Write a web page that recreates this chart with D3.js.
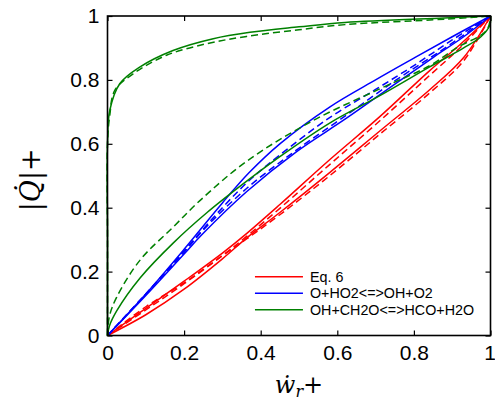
<!DOCTYPE html>
<html>
<head>
<meta charset="utf-8">
<script src="https://cdn.jsdelivr.net/npm/d3@7"></script>
<style>
body { margin: 0; background: #fff; }
text { font-family: "Liberation Sans", Arial, sans-serif; }
</style>
</head>
<body>
<script>
// tick values and labels
let xTicks = [0, 0.2, 0.4, 0.6, 0.8, 1];
let yTicks = [0, 0.2, 0.4, 0.6, 0.8, 1];
let legendLabels = ["Eq. 6", "O+HO2<=>OH+O2", "OH+CH2O<=>HCO+H2O"];

// Eq. 6 (red) loop branches
let redSolidUp = [[0,0],[0.1,0.085],[0.2,0.17],[0.3,0.258],[0.363,0.319],[0.45,0.41],[0.58,0.55],[0.711,0.685],[0.842,0.83],[0.92,0.91],[1,1]];
let redDashUp = [[0,0],[0.1,0.08],[0.2,0.162],[0.3,0.25],[0.363,0.31],[0.45,0.398],[0.58,0.535],[0.711,0.672],[0.842,0.815],[0.92,0.9],[1,1]];
let redSolidLow = [[0,0],[0.1,0.065],[0.2,0.145],[0.3,0.24],[0.363,0.305],[0.45,0.385],[0.58,0.51],[0.711,0.64],[0.842,0.77],[0.93,0.87],[1,1]];
let redDashLow = [[0,0],[0.1,0.09],[0.2,0.165],[0.3,0.25],[0.363,0.302],[0.45,0.378],[0.58,0.5],[0.711,0.63],[0.842,0.76],[0.93,0.86],[1,1]];

// O+HO2<=>OH+O2 (blue) loop branches
let blueSolidUp = [[0,0],[0.1,0.13],[0.2,0.27],[0.3,0.415],[0.37,0.51],[0.45,0.6],[0.58,0.715],[0.7,0.8],[0.8,0.868],[0.9,0.935],[1,1]];
let blueDashUp = [[0,0],[0.1,0.13],[0.2,0.265],[0.3,0.4],[0.37,0.485],[0.45,0.565],[0.58,0.682],[0.7,0.77],[0.8,0.845],[0.9,0.925],[1,1]];
let blueSolidLow = [[0,0],[0.1,0.125],[0.2,0.255],[0.25,0.32],[0.363,0.45],[0.493,0.575],[0.624,0.68],[0.754,0.79],[0.85,0.87],[0.93,0.935],[1,1]];
let blueDashLow = [[0,0],[0.1,0.13],[0.2,0.26],[0.25,0.33],[0.363,0.46],[0.493,0.58],[0.624,0.69],[0.754,0.8],[0.85,0.875],[0.93,0.94],[1,1]];

// OH+CH2O<=>HCO+H2O (green) loop branches
let greenSolidUp = [[0,0],[0,0.3],[0,0.6],[0.006,0.705],[0.032,0.788],[0.084,0.84],[0.171,0.892],[0.276,0.929],[0.372,0.949],[0.5,0.966],[0.62,0.98],[0.88,0.994],[1,1]];
let greenDashUp = [[0,0],[0,0.3],[0,0.6],[0.006,0.69],[0.019,0.767],[0.067,0.819],[0.154,0.877],[0.258,0.913],[0.363,0.936],[0.5,0.957],[0.62,0.973],[0.88,0.99],[1,1]];
let greenSolidLow = [[0,0],[0.005,0.03],[0.024,0.077],[0.085,0.18],[0.172,0.29],[0.26,0.385],[0.36,0.48],[0.45,0.56],[0.58,0.665],[0.71,0.75],[0.84,0.84],[0.93,0.9],[0.975,0.935],[0.998,0.97],[1,1]];
let greenDashLow = [[0,0],[0.005,0.06],[0.024,0.12],[0.085,0.236],[0.172,0.34],[0.242,0.423],[0.363,0.545],[0.537,0.673],[0.711,0.772],[0.842,0.845],[0.911,0.9],[0.99,0.955],[1,1]];

//set up size and margin
let W = 495, H = 402;
let margin = { top: 16, right: 4.5, bottom: 66.5, left: 107.5 };
let width = W - margin.left - margin.right;
let height = H - margin.top - margin.bottom;

let colors = ["#ff0000", "#0000ff", "#008000"];

let series = [
  { pts: redSolidUp, c: 0, dash: false },
  { pts: redDashUp, c: 0, dash: true },
  { pts: redSolidLow, c: 0, dash: false },
  { pts: redDashLow, c: 0, dash: true },
  { pts: blueSolidUp, c: 1, dash: false },
  { pts: blueDashUp, c: 1, dash: true },
  { pts: blueSolidLow, c: 1, dash: false },
  { pts: blueDashLow, c: 1, dash: true },
  { pts: greenSolidUp, c: 2, dash: false },
  { pts: greenDashUp, c: 2, dash: true },
  { pts: greenSolidLow, c: 2, dash: false },
  { pts: greenDashLow, c: 2, dash: true }
];

let svg = d3.select("body").append("svg")
  .attr("width", W)
  .attr("height", H);

let g = svg.append("g")
  .attr("transform", "translate(" + margin.left + "," + margin.top + ")");

let xScale = d3.scaleLinear().domain([0, 1]).range([0, width]);
let yScale = d3.scaleLinear().domain([0, 1]).range([height, 0]);

let line = d3.line()
  .x(d => xScale(d[0]))
  .y(d => yScale(d[1]))
  .curve(d3.curveCatmullRom.alpha(0.5));

g.selectAll("path.series")
  .data(series)
  .enter()
  .append("path")
  .attr("class", "series")
  .attr("d", d => line(d.pts))
  .attr("fill", "none")
  .attr("stroke", d => colors[d.c])
  .attr("stroke-width", 1.5)
  .attr("stroke-dasharray", d => d.dash ? "7,4" : null);

//axes with inward ticks
let fmt = d => String(d);
let tickLen = 5;

let xAxis = d3.axisBottom(xScale).tickValues(xTicks).tickFormat(fmt).tickSize(-tickLen).tickSizeOuter(0).tickPadding(10);
let yAxis = d3.axisLeft(yScale).tickValues(yTicks).tickFormat(fmt).tickSize(-tickLen).tickSizeOuter(0).tickPadding(8);
let xTop = d3.axisTop(xScale).tickValues(xTicks).tickFormat("").tickSize(-tickLen).tickSizeOuter(0);
let yRight = d3.axisRight(yScale).tickValues(yTicks).tickFormat("").tickSize(-tickLen).tickSizeOuter(0);

let xAxisG = g.append("g").attr("transform", "translate(0," + height + ")").call(xAxis);
g.append("g").call(yAxis);
g.append("g").call(xTop);
g.append("g").attr("transform", "translate(" + width + ",0)").call(yRight);

g.selectAll(".domain").remove();
g.selectAll(".tick line").attr("stroke", "#000").attr("stroke-width", 1.2);
g.selectAll(".tick text")
  .attr("fill", "#000")
  .style("font-size", "21px")
  .style("font-family", "'Liberation Sans', Arial, sans-serif");

// keep the last x label inside the page
xAxisG.selectAll(".tick text").filter(d => d === 1).attr("dx", -1);

g.append("rect")
  .attr("x", 0)
  .attr("y", 0)
  .attr("width", width)
  .attr("height", height)
  .attr("fill", "none")
  .attr("stroke", "#000")
  .attr("stroke-width", 1.6);

//legend
let legend = g.append("g")
  .attr("transform", "translate(" + (xScale(0.385)) + "," + (yScale(0.184)) + ")");

legendLabels.forEach((lab, i) => {
  let row = legend.append("g").attr("transform", "translate(0," + (i * 16.5) + ")");
  row.append("line")
    .attr("x1", 0).attr("x2", 48)
    .attr("y1", 0).attr("y2", 0)
    .attr("stroke", colors[i])
    .attr("stroke-width", 1.5);
  row.append("text")
    .attr("x", 55)
    .attr("y", 5)
    .style("font-size", "14.3px")
    .text(lab);
});

//axis labels
svg.append("text")
  .attr("x", margin.left + width / 2)
  .attr("y", 393)
  .attr("text-anchor", "middle")
  .style("font-family", "'DejaVu Serif', serif")
  .style("font-size", "24px")
  .html("<tspan font-style='italic'>w\u0307</tspan><tspan font-style='italic' font-size='16px' dy='4'>r</tspan><tspan dy='-4'>+</tspan>");

svg.append("text")
  .attr("transform", "translate(40," + (margin.top + height / 2 + 4) + ") rotate(-90)")
  .attr("text-anchor", "middle")
  .style("font-family", "'DejaVu Serif', serif")
  .style("font-size", "27px")
  .html("|<tspan font-style='italic'>Q\u0307</tspan>|+");
</script>
</body>
</html>
